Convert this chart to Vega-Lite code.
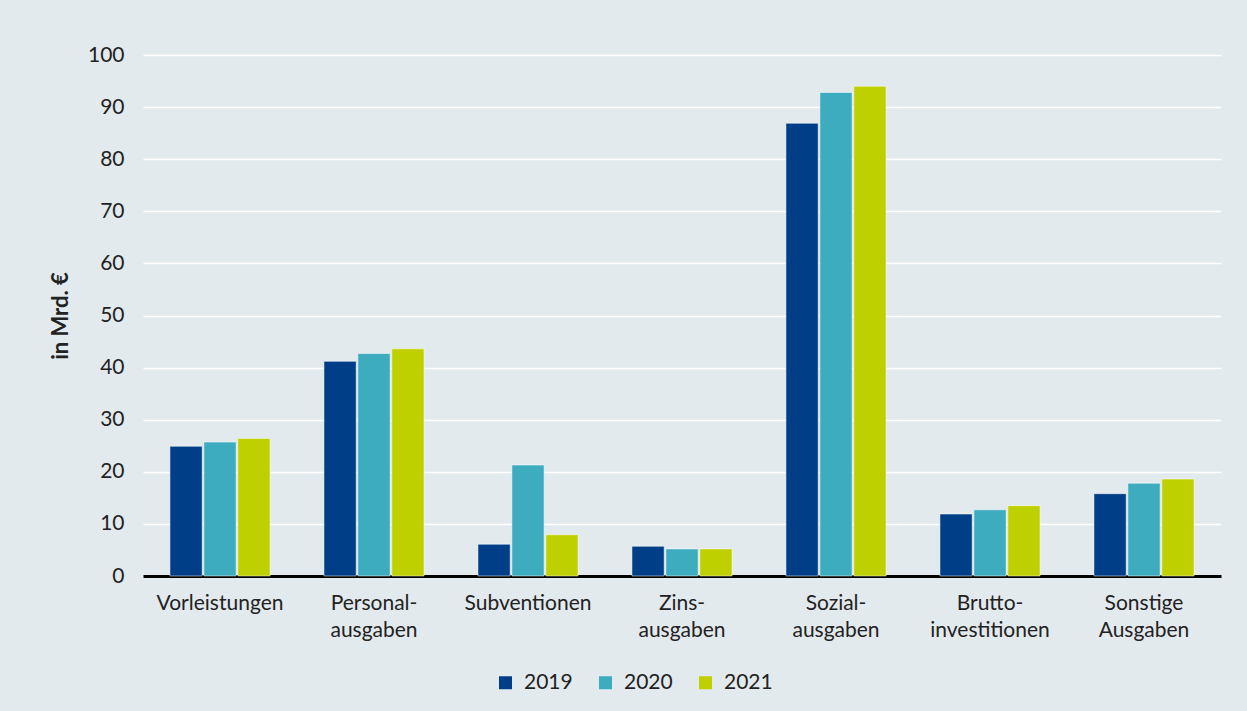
{
  "$schema": "https://vega.github.io/schema/vega-lite/v6.json",
  "width": 1078,
  "height": 521,
  "autosize": {"type": "none"},
  "padding": {"left": 143, "top": 55, "right": 26, "bottom": 135},
  "background": "#e3eaee",
  "data": {
    "values": [
      {"kategorie": "Vorleistungen", "jahr": "2019", "wert": 24.9},
      {"kategorie": "Vorleistungen", "jahr": "2020", "wert": 25.7},
      {"kategorie": "Vorleistungen", "jahr": "2021", "wert": 26.4},
      {"kategorie": "Personal-|ausgaben", "jahr": "2019", "wert": 41.2},
      {"kategorie": "Personal-|ausgaben", "jahr": "2020", "wert": 42.7},
      {"kategorie": "Personal-|ausgaben", "jahr": "2021", "wert": 43.6},
      {"kategorie": "Subventionen", "jahr": "2019", "wert": 6.1},
      {"kategorie": "Subventionen", "jahr": "2020", "wert": 21.3},
      {"kategorie": "Subventionen", "jahr": "2021", "wert": 7.9},
      {"kategorie": "Zins-|ausgaben", "jahr": "2019", "wert": 5.7},
      {"kategorie": "Zins-|ausgaben", "jahr": "2020", "wert": 5.2},
      {"kategorie": "Zins-|ausgaben", "jahr": "2021", "wert": 5.2},
      {"kategorie": "Sozial-|ausgaben", "jahr": "2019", "wert": 86.9},
      {"kategorie": "Sozial-|ausgaben", "jahr": "2020", "wert": 92.8},
      {"kategorie": "Sozial-|ausgaben", "jahr": "2021", "wert": 94.0},
      {"kategorie": "Brutto-|investitionen", "jahr": "2019", "wert": 11.9},
      {"kategorie": "Brutto-|investitionen", "jahr": "2020", "wert": 12.7},
      {"kategorie": "Brutto-|investitionen", "jahr": "2021", "wert": 13.5},
      {"kategorie": "Sonstige|Ausgaben", "jahr": "2019", "wert": 15.8},
      {"kategorie": "Sonstige|Ausgaben", "jahr": "2020", "wert": 17.8},
      {"kategorie": "Sonstige|Ausgaben", "jahr": "2021", "wert": 18.6}
    ]
  },
  "mark": {"type": "bar", "stroke": "white", "strokeWidth": 1, "strokeOpacity": 0.5},
  "encoding": {
    "x": {
      "field": "kategorie",
      "type": "nominal",
      "sort": null,
      "scale": {"paddingInner": 0.35, "paddingOuter": 0.175},
      "axis": {
        "title": null,
        "labelAngle": 0,
        "labelExpr": "split(datum.label, '|')",
        "labelLineHeight": 27,
        "labelPadding": 16,
        "labelFontSize": 21,
        "ticks": false,
        "domainColor": "#000000",
        "domainWidth": 3
      }
    },
    "xOffset": {"field": "jahr", "type": "nominal", "scale": {"paddingInner": 0.05}},
    "y": {
      "field": "wert",
      "type": "quantitative",
      "scale": {"domain": [0, 100]},
      "axis": {
        "title": "in Mrd. €",
        "titleFontWeight": "bold",
        "titleFontSize": 22,
        "titlePadding": 15,
        "values": [0, 10, 20, 30, 40, 50, 60, 70, 80, 90, 100],
        "labelFontSize": 21,
        "labelPadding": 19,
        "ticks": false,
        "domain": false,
        "gridColor": "#ffffff",
        "gridWidth": 1.5
      }
    },
    "color": {
      "field": "jahr",
      "type": "nominal",
      "scale": {"domain": ["2019", "2020", "2021"], "range": ["#003f87", "#3eacbf", "#bfd000"]},
      "legend": {
        "title": null,
        "orient": "none",
        "legendX": 352,
        "legendY": 617,
        "direction": "horizontal",
        "columns": 3,
        "symbolType": "square",
        "symbolSize": 169,
        "symbolStrokeWidth": 0,
        "labelFontSize": 21,
        "labelOffset": 8,
        "columnPadding": 22
      }
    }
  },
  "config": {
    "view": {"stroke": null},
    "font": "Lato",
    "axis": {"labelColor": "#222222", "titleColor": "#222222", "labelFont": "Lato", "titleFont": "Lato"},
    "legend": {"labelColor": "#222222", "labelFont": "Lato"}
  }
}
